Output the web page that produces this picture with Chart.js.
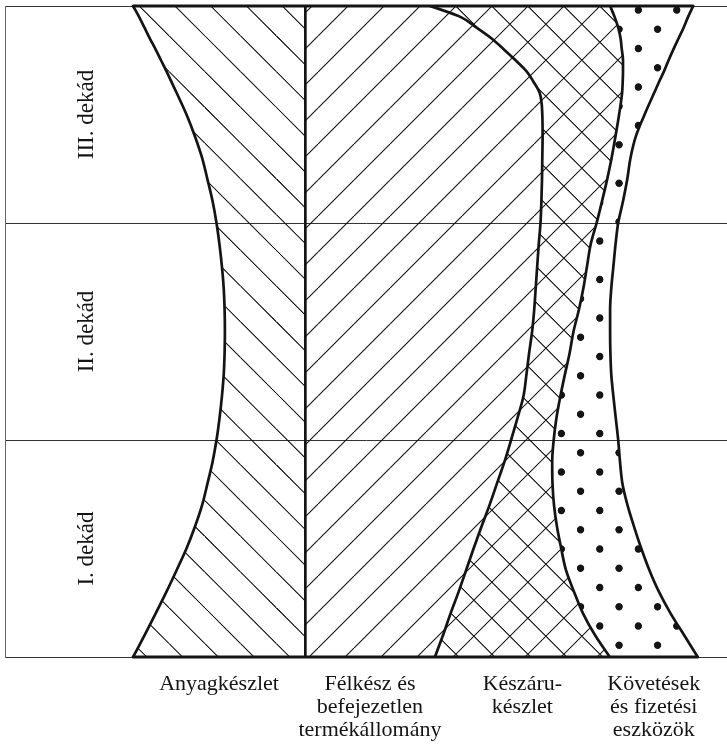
<!DOCTYPE html>
<html>
<head>
<meta charset="utf-8">
<script src="https://cdn.jsdelivr.net/npm/chart.js@4.4.1/dist/chart.umd.min.js"></script>
<style>
  html, body { margin: 0; padding: 0; background: #fff; }
  #wrap { width: 727px; height: 746px; position: relative; }
</style>
</head>
<body>
<div id="wrap"><canvas id="c"></canvas></div>
<script>
// ---- data (y: days of the month, bottom = day 0; values: stock levels) ----
const days = [0,1,2,3,4,5,6,7,8,9,10,11,12,13,14,15,16,17,18,19,20,21,22,23,24,25,26,26.5,27,27.5,28,28.5,29,29.5,30];
const anyagkeszlet = [57.3,53.5,49.8,46.2,42.8,39.5,36.7,34.3,32.5,30.8,29.5,28.5,27.7,27.1,26.8,26.7,26.8,27.1,27.7,28.5,29.5,30.8,32.5,34.3,36.7,39.5,42.8,44.5,46.2,48.0,49.8,51.7,53.5,55.3,57.3];
const felkesz = [43.3,46.0,48.5,51.2,53.7,56.2,58.8,61.5,64.0,66.5,68.7,70.8,72.8,73.8,74.7,75.7,76.4,76.9,77.4,77.9,78.5,78.8,79.0,79.1,79.2,79.1,78.2,76.2,73.8,70.2,66.3,62.2,57.2,51.8,41.7];
const keszaru = [58.3,50.7,44.2,38.5,33.3,29.2,25.2,21.5,18.5,15.9,14.2,13.0,12.3,12.8,13.5,13.8,14.9,15.9,16.6,17.3,18.7,20.2,21.7,23.1,24.3,25.6,27.5,29.7,32.2,35.8,39.3,43.0,47.2,51.4,60.0];
const kovetelesek = [29.3,29.7,29.2,28.3,27.8,26.7,25.7,24.5,23.3,22.6,21.5,19.8,17.7,15.5,13.6,12.2,10.4,9.3,8.8,8.3,7.2,7.0,6.7,6.3,6.8,8.5,10.7,12.1,13.7,15.2,17.2,19.3,21.8,24.5,27.7];
const seriesLabels = [
  ['Anyagkészlet'],
  ['Félkész és', 'befejezetlen', 'termékállomány'],
  ['Készáru-', 'készlet'],
  ['Követések', 'és fizetési', 'eszközök']
];
const dekadLabels = ['I. dekád', 'II. dekád', 'III. dekád'];
const dekadCenters = [5, 15, 25];
const dekadBounds = [0, 10, 20, 30];

// ---- fill patterns ----
const INK = '#141414';
function hatchPattern(spacing, slashC, backC) {
  const N = Math.round(spacing * 2), k = spacing / N;
  const cv = document.createElement('canvas'); cv.width = N; cv.height = N;
  const g = cv.getContext('2d');
  g.strokeStyle = INK; g.lineWidth = 1.1 / k;
  g.beginPath();
  for (let i = -1; i <= 1; i++) {
    if (backC !== null) { g.moveTo(i * N, 0); g.lineTo(i * N + N, N); }
    if (slashC !== null) { g.moveTo(i * N + N, 0); g.lineTo(i * N, N); }
  }
  g.stroke();
  const p = g.createPattern(cv, 'repeat');
  let tx, ty;
  if (slashC !== null && backC !== null) { tx = (slashC + backC) / 2; ty = (slashC - backC) / 2; }
  else if (slashC !== null) { tx = slashC; ty = 0; }
  else { tx = backC; ty = 0; }
  p.setTransform(new DOMMatrix([k, 0, 0, k, tx, ty]));
  return p;
}
function dotPattern(period, r, ox, oy) {
  const N = Math.round(period * 2), k = period / N;
  const cv = document.createElement('canvas'); cv.width = N; cv.height = N;
  const g = cv.getContext('2d');
  g.fillStyle = INK;
  [[0,0],[N,0],[0,N],[N,N],[N/2,N/2]].forEach(([x,y]) => { g.beginPath(); g.arc(x, y, r / k, 0, Math.PI * 2); g.fill(); });
  const p = g.createPattern(cv, 'repeat');
  p.setTransform(new DOMMatrix([k, 0, 0, k, ox, oy]));
  return p;
}
const patAnyag = hatchPattern(35.75, null, 26);
const patFelkesz = hatchPattern(36, 30, null);
const patKeszaru = hatchPattern(36, 30, 17.7);
const patKovet = dotPattern(38.5, 3.7, 22.3, 10);

// ---- datasets ----
const last = days.length - 1;
function area(label, values, bg, fill) {
  return {
    label, data: days.map((d, i) => ({ x: values[i], y: d })),
    backgroundColor: bg, borderColor: INK, borderWidth: 2.7, fill,
    pointRadius: 0, cubicInterpolationMode: 'monotone', stack: 'assets'
  };
}
const rightTotal = i => felkesz[i] + keszaru[i] + kovetelesek[i];
function edge(label, i) {
  return {
    label, data: [{ x: -anyagkeszlet[i], y: days[i] }, { x: rightTotal(i), y: days[i] }],
    borderColor: INK, borderWidth: 3, fill: false, pointRadius: 0, tension: 0,
    stack: label, clip: 5, order: -1
  };
}
const datasets = [
  area('Anyagkészlet', anyagkeszlet.map(v => -v), patAnyag, 'origin'),
  area('Félkész és befejezetlen termékállomány', felkesz, patFelkesz, 'origin'),
  area('Készárukészlet', keszaru, patKeszaru, '-1'),
  area('Követések és fizetési eszközök', kovetelesek, patKovet, '-1'),
  edge('top', last),
  edge('bottom', 0)
];

// x positions of the category captions: centres of each band on day 0
const tickValues = [
  -anyagkeszlet[0] / 2,
  0,
  felkesz[0] / 2,
  felkesz[0] + keszaru[0] / 2,
  felkesz[0] + keszaru[0] + kovetelesek[0] / 2
];
const tickTexts = [seriesLabels[0], '', seriesLabels[1], seriesLabels[2], seriesLabels[3]];

const SERIF = '"Liberation Serif", "Times New Roman", serif';

const dekadPlugin = {
  id: 'dekad',
  afterDatasetsDraw(chart) {
    const { ctx, chartArea } = chart;
    const y = chart.scales.y;
    ctx.save();
    ctx.font = '23px ' + SERIF;
    ctx.fillStyle = INK;
    ctx.textAlign = 'center';
    ctx.textBaseline = 'alphabetic';
    dekadLabels.forEach((t, i) => {
      ctx.save();
      ctx.translate(chartArea.left + 88, y.getPixelForValue(dekadCenters[i]));
      ctx.rotate(-Math.PI / 2);
      ctx.fillText(t, 0, 0);
      ctx.restore();
    });
    ctx.restore();
  }
};

new Chart(document.getElementById('c'), {
  type: 'line',
  data: { datasets },
  plugins: [dekadPlugin],
  options: {
    indexAxis: 'y',
    responsive: true,
    maintainAspectRatio: false,
    animation: false,
    events: [],
    layout: { padding: { left: 5, top: 6, right: 0, bottom: 0 } },
    plugins: { legend: { display: false }, tooltip: { enabled: false } },
    elements: { line: { borderCapStyle: 'round', borderJoinStyle: 'round' } },
    scales: {
      y: {
        type: 'linear', min: 0, max: 30,
        afterBuildTicks: s => { s.ticks = dekadBounds.map(v => ({ value: v })); },
        ticks: { display: false },
        grid: { drawTicks: false, color: '#333', lineWidth: 1 },
        border: { display: true, color: '#666', width: 1 }
      },
      x: {
        type: 'linear', min: -100, max: 140.667, stacked: true, z: 1,
        border: { display: false },
        grid: {
          drawTicks: false, color: INK,
          lineWidth: c => (c.tick && c.tick.value === 0) ? 2.7 : 0
        },
        afterBuildTicks: s => { s.ticks = tickValues.map(v => ({ value: v })); },
        afterFit: s => { s.height = 89; },
        ticks: {
          autoSkip: false, maxRotation: 0, minRotation: 0, padding: 16,
          color: INK,
          font: { family: SERIF, size: 22, lineHeight: 23 / 22 },
          callback: (v, i) => tickTexts[i]
        }
      }
    }
  }
});
</script>
</body>
</html>
